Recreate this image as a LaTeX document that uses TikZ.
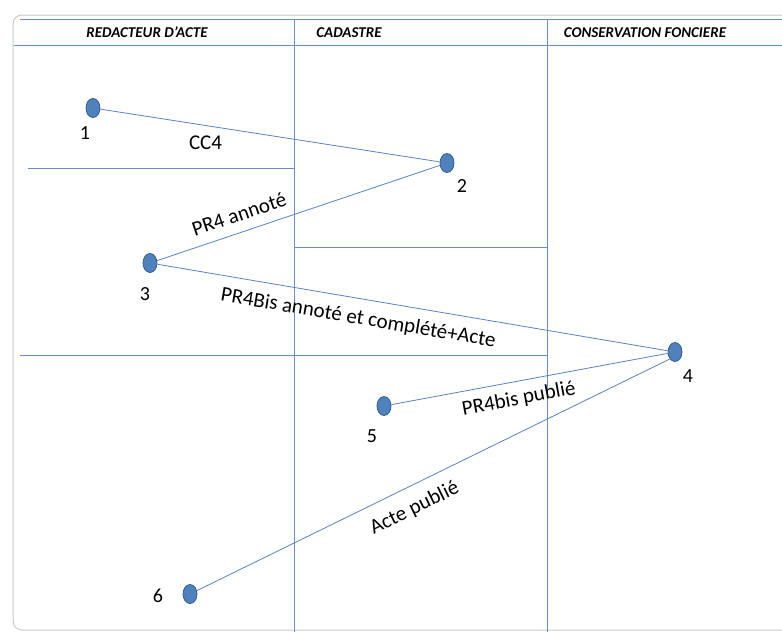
\documentclass[tikz,border=0pt]{standalone}
\usepackage{fontspec}
\setmainfont{Carlito}
\usetikzlibrary{shapes.geometric}

\definecolor{lanecol}{HTML}{6A8FC8}
\definecolor{linkcol}{HTML}{5A82BE}
\definecolor{dotfill}{HTML}{4F81BD}
\definecolor{dotline}{HTML}{385D8A}
\definecolor{framecol}{HTML}{C8C8C8}

\tikzset{
  lane/.style={draw=lanecol, line width=0.8pt},
  flow/.style={draw=linkcol, line width=0.8pt},
  etape/.style={ellipse, draw=dotline, fill=dotfill, line width=0.8pt,
                minimum width=14pt, minimum height=19pt, inner sep=0pt},
  num/.style={font=\fontsize{20}{24}\selectfont},
  tete/.style={font=\fontsize{15}{18}\selectfont\bfseries\itshape, anchor=base},
  lbl/.style={font=\fontsize{21}{25}\selectfont, inner sep=1pt},
}

\begin{document}
\begin{tikzpicture}[x=1pt, y=-1pt]
      \useasboundingbox (0,0) rectangle (782,632);
      % frame and lanes
      \draw [framecol, line width=1pt, rounded corners=9pt] (800,15) -- (13,15) -- (13,630) -- (800,630);
      \draw [lane] (20,19) -- (782,19);
      \draw [lane] (14,45) -- (782,45);
      \draw [lane] (294,19) -- (294,632);
      \draw [lane] (547,19) -- (547,632);
      \draw [lane] (28,168) -- (294,168);
      \draw [lane] (294,247) -- (547,247);
      \draw [lane] (20,355) -- (547,355);
      \node [tete]  (hred) at (147,37) {REDACTEUR D’ACTE};
      \node [tete]  (hcad) at (349,37) {CADASTRE};
      \node [tete]  (hcon) at (645,37) {CONSERVATION FONCIERE};
      % steps
      \node [etape]  (n1) at ( 93,108) {};
      \node [etape]  (n2) at (447,163) {};
      \node [etape]  (n3) at (150,263) {};
      \node [etape]  (n4) at (675,352) {};
      \node [etape]  (n5) at (384,406) {};
      \node [etape]  (n6) at (190,594) {};
      \node [num]    (l1) at ( 85,133) {1};
      \node [num]    (l2) at (462,186) {2};
      \node [num]    (l3) at (145,294) {3};
      \node [num]    (l4) at (688,376) {4};
      \node [num]    (l5) at (372,436) {5};
      \node [num]    (l6) at (158,596) {6};
      % flows
      \draw [flow] (n1) -- (n2) node[lbl, pos=0.31, below=9pt] {CC4};
      \draw [flow] (n3) -- (n2) node[lbl, pos=0.31, sloped, above=9.5pt] {PR4 annoté};
      \draw [flow] (n3) -- (n4) node[lbl, pos=0.40, sloped, below=9.5pt] {PR4Bis annoté et complété+Acte};
      \draw [flow] (n5) -- (n4) node[lbl, pos=0.45, sloped, below=7.5pt] {PR4bis publié};
      \draw [flow] (n6) -- (n4.south west) node[lbl, pos=0.44, sloped, below=11.5pt] {Acte publié};
\end{tikzpicture}
\end{document}
